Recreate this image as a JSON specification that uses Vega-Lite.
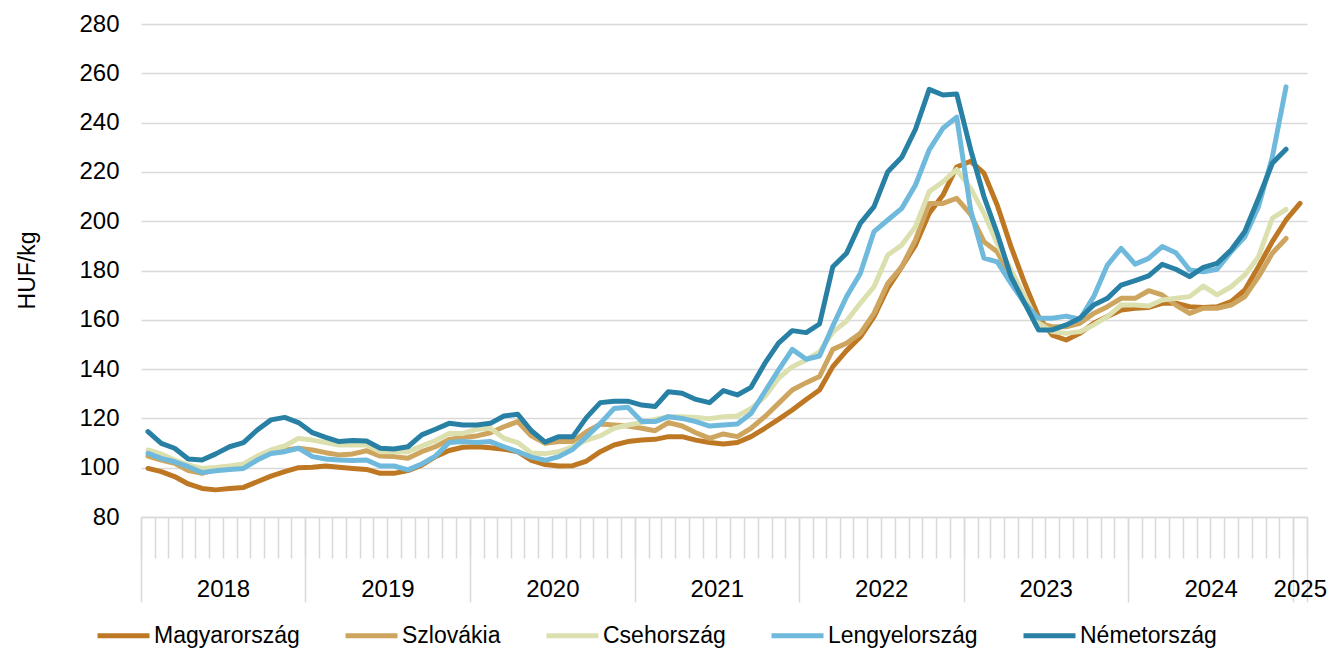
{
  "$schema": "https://vega.github.io/schema/vega-lite/v6.json",
  "width": 1166,
  "height": 493,
  "autosize": {"type": "none"},
  "padding": {"left": 141, "top": 24, "right": 23, "bottom": 133},
  "config": {
    "view": {"stroke": null},
    "font": "Liberation Sans",
    "axis": {"labelFont": "Liberation Sans", "titleFont": "Liberation Sans", "labelColor": "#000000", "titleColor": "#000000"}
  },
  "data": {
    "values": [
      {"d": "2018-01", "Magyarország": 99.7, "Szlovákia": 104.7, "Csehország": 107.2, "Lengyelország": 105.8, "Németország": 114.6},
      {"d": "2018-02", "Magyarország": 98.4, "Szlovákia": 103.1, "Csehország": 105.6, "Lengyelország": 103.8, "Németország": 109.9},
      {"d": "2018-03", "Magyarország": 96.4, "Szlovákia": 101.8, "Csehország": 103.1, "Lengyelország": 102.4, "Németország": 107.9},
      {"d": "2018-04", "Magyarország": 93.4, "Szlovákia": 98.8, "Csehország": 101.1, "Lengyelország": 100.4, "Németország": 103.5},
      {"d": "2018-05", "Magyarország": 91.6, "Szlovákia": 97.7, "Csehország": 99.7, "Lengyelország": 98.0, "Németország": 103.1},
      {"d": "2018-06", "Magyarország": 91.0, "Szlovákia": 99.3, "Csehország": 100.1, "Lengyelország": 98.8, "Németország": 105.6},
      {"d": "2018-07", "Magyarország": 91.6, "Szlovákia": 99.7, "Csehország": 100.7, "Lengyelország": 99.3, "Németország": 108.5},
      {"d": "2018-08", "Magyarország": 92.0, "Szlovákia": 100.1, "Csehország": 101.5, "Lengyelország": 99.7, "Németország": 110.2},
      {"d": "2018-09", "Magyarország": 94.3, "Szlovákia": 103.8, "Csehország": 104.7, "Lengyelország": 103.1, "Németország": 115.3},
      {"d": "2018-10", "Magyarország": 96.6, "Szlovákia": 106.5, "Csehország": 107.2, "Lengyelország": 105.8, "Németország": 119.4},
      {"d": "2018-11", "Magyarország": 98.4, "Szlovákia": 107.2, "Csehország": 108.8, "Lengyelország": 106.5, "Németország": 120.4},
      {"d": "2018-12", "Magyarország": 100.0, "Szlovákia": 107.9, "Csehország": 111.9, "Lengyelország": 107.9, "Németország": 118.3},
      {"d": "2019-01", "Magyarország": 100.2, "Szlovákia": 107.2, "Csehország": 111.2, "Lengyelország": 104.5, "Németország": 114.2},
      {"d": "2019-02", "Magyarország": 100.7, "Szlovákia": 106.1, "Csehország": 110.2, "Lengyelország": 103.5, "Németország": 112.3},
      {"d": "2019-03", "Magyarország": 100.2, "Szlovákia": 105.2, "Csehország": 109.2, "Lengyelország": 103.1, "Németország": 110.6},
      {"d": "2019-04", "Magyarország": 99.7, "Szlovákia": 105.6, "Csehország": 109.2, "Lengyelország": 102.9, "Németország": 111.0},
      {"d": "2019-05", "Magyarország": 99.3, "Szlovákia": 106.9, "Csehország": 109.2, "Lengyelország": 103.1, "Németország": 110.8},
      {"d": "2019-06", "Magyarország": 97.7, "Szlovákia": 104.7, "Csehország": 106.5, "Lengyelország": 100.7, "Németország": 107.9},
      {"d": "2019-07", "Magyarország": 97.7, "Szlovákia": 104.5, "Csehország": 106.5, "Lengyelország": 100.7, "Németország": 107.6},
      {"d": "2019-08", "Magyarország": 98.8, "Szlovákia": 103.8, "Csehország": 106.5, "Lengyelország": 99.1, "Németország": 108.5},
      {"d": "2019-09", "Magyarország": 101.0, "Szlovákia": 106.5, "Csehország": 108.8, "Lengyelország": 101.5, "Németország": 113.3},
      {"d": "2019-10", "Magyarország": 104.5, "Szlovákia": 108.5, "Csehország": 111.0, "Lengyelország": 104.7, "Németország": 115.6},
      {"d": "2019-11", "Magyarország": 107.0, "Szlovákia": 111.5, "Csehország": 113.9, "Lengyelország": 110.2, "Németország": 118.0},
      {"d": "2019-12", "Magyarország": 108.3, "Szlovákia": 112.3, "Csehország": 113.9, "Lengyelország": 110.6, "Németország": 117.3},
      {"d": "2020-01", "Magyarország": 108.5, "Szlovákia": 112.9, "Csehország": 115.6, "Lengyelország": 110.2, "Németország": 117.3},
      {"d": "2020-02", "Magyarország": 108.1, "Szlovákia": 114.2, "Csehország": 116.0, "Lengyelország": 110.6, "Németország": 118.0},
      {"d": "2020-03", "Magyarország": 107.5, "Szlovákia": 116.6, "Csehország": 111.9, "Lengyelország": 108.5, "Németország": 121.0},
      {"d": "2020-04", "Magyarország": 106.5, "Szlovákia": 118.7, "Csehország": 110.2, "Lengyelország": 106.5, "Németország": 121.7},
      {"d": "2020-05", "Magyarország": 103.0, "Szlovákia": 112.9, "Csehország": 106.0, "Lengyelország": 104.3, "Németország": 115.0},
      {"d": "2020-06", "Magyarország": 101.3, "Szlovákia": 109.9, "Csehország": 105.7, "Lengyelország": 103.0, "Németország": 110.4},
      {"d": "2020-07", "Magyarország": 100.7, "Szlovákia": 110.6, "Csehország": 106.5, "Lengyelország": 104.5, "Németország": 112.6},
      {"d": "2020-08", "Magyarország": 100.8, "Szlovákia": 110.6, "Csehország": 108.5, "Lengyelország": 107.5, "Németország": 112.6},
      {"d": "2020-09", "Magyarország": 102.7, "Szlovákia": 114.6, "Csehország": 111.2, "Lengyelország": 112.6, "Németország": 120.4},
      {"d": "2020-10", "Magyarország": 106.5, "Szlovákia": 117.7, "Csehország": 112.9, "Lengyelország": 118.0, "Németország": 126.4},
      {"d": "2020-11", "Magyarország": 109.2, "Szlovákia": 117.3, "Csehország": 116.0, "Lengyelország": 124.0, "Németország": 127.0},
      {"d": "2020-12", "Magyarország": 110.6, "Szlovákia": 116.9, "Csehország": 117.3, "Lengyelország": 124.5, "Németország": 127.0},
      {"d": "2021-01", "Magyarország": 111.2, "Szlovákia": 116.0, "Csehország": 118.3, "Lengyelország": 118.7, "Németország": 125.4},
      {"d": "2021-02", "Magyarország": 111.5, "Szlovákia": 115.0, "Csehország": 119.6, "Lengyelország": 118.7, "Németország": 124.8},
      {"d": "2021-03", "Magyarország": 112.6, "Szlovákia": 118.3, "Csehország": 120.7, "Lengyelország": 120.7, "Németország": 130.8},
      {"d": "2021-04", "Magyarország": 112.6, "Szlovákia": 116.9, "Csehország": 120.7, "Lengyelország": 120.0, "Németország": 130.2},
      {"d": "2021-05", "Magyarország": 111.2, "Szlovákia": 114.2, "Csehország": 120.4, "Lengyelország": 118.7, "Németország": 127.7},
      {"d": "2021-06", "Magyarország": 110.2, "Szlovákia": 111.9, "Csehország": 119.9, "Lengyelország": 116.9, "Németország": 126.4},
      {"d": "2021-07", "Magyarország": 109.6, "Szlovákia": 113.7, "Csehország": 120.7, "Lengyelország": 117.3, "Németország": 131.3},
      {"d": "2021-08", "Magyarország": 110.2, "Szlovákia": 112.6, "Csehország": 121.0, "Lengyelország": 117.7, "Németország": 129.5},
      {"d": "2021-09", "Magyarország": 112.6, "Szlovákia": 116.0, "Csehország": 124.0, "Lengyelország": 122.0, "Németország": 132.6},
      {"d": "2021-10", "Magyarország": 116.0, "Szlovákia": 120.7, "Csehország": 128.8, "Lengyelország": 130.8, "Németország": 142.3},
      {"d": "2021-11", "Magyarország": 119.6, "Szlovákia": 126.1, "Csehország": 136.3, "Lengyelország": 139.6, "Németország": 150.5},
      {"d": "2021-12", "Magyarország": 123.4, "Szlovákia": 131.5, "Csehország": 141.0, "Lengyelország": 148.0, "Németország": 155.6},
      {"d": "2022-01", "Magyarország": 127.7, "Szlovákia": 134.5, "Csehország": 143.7, "Lengyelország": 144.0, "Németország": 154.8},
      {"d": "2022-02", "Magyarország": 131.5, "Szlovákia": 137.0, "Csehország": 147.0, "Lengyelország": 145.3, "Németország": 158.3},
      {"d": "2022-03", "Magyarország": 141.0, "Szlovákia": 148.0, "Csehország": 155.0, "Lengyelország": 157.5, "Németország": 181.5},
      {"d": "2022-04", "Magyarország": 147.5, "Szlovákia": 150.5, "Csehország": 159.5, "Lengyelország": 169.4, "Németország": 187.0},
      {"d": "2022-05", "Magyarország": 153.0, "Szlovákia": 154.5, "Csehország": 166.7, "Lengyelország": 178.8, "Németország": 199.1},
      {"d": "2022-06", "Magyarország": 161.3, "Szlovákia": 162.6, "Csehország": 173.4, "Lengyelország": 195.8, "Németország": 205.9},
      {"d": "2022-07", "Magyarország": 172.8, "Szlovákia": 174.8, "Csehország": 186.3, "Lengyelország": 200.5, "Németország": 220.1},
      {"d": "2022-08", "Magyarország": 181.5, "Szlovákia": 181.5, "Csehország": 190.3, "Lengyelország": 205.2, "Németország": 225.9},
      {"d": "2022-09", "Magyarország": 190.3, "Szlovákia": 192.4, "Csehország": 197.8, "Lengyelország": 214.7, "Németország": 237.3},
      {"d": "2022-10", "Magyarország": 203.2, "Szlovákia": 207.2, "Csehország": 212.0, "Lengyelország": 228.9, "Németország": 253.5},
      {"d": "2022-11", "Magyarország": 210.6, "Szlovákia": 207.2, "Csehország": 216.0, "Lengyelország": 237.7, "Németország": 251.2},
      {"d": "2022-12", "Magyarország": 222.0, "Szlovákia": 209.3, "Csehország": 221.0, "Lengyelország": 242.2, "Németország": 251.6},
      {"d": "2023-01", "Magyarország": 224.3, "Szlovákia": 202.8, "Csehország": 213.3, "Lengyelország": 204.5, "Németország": 229.0},
      {"d": "2023-02", "Magyarország": 219.5, "Szlovákia": 191.7, "Csehország": 203.2, "Lengyelország": 185.0, "Németország": 210.0},
      {"d": "2023-03", "Magyarország": 206.5, "Szlovákia": 187.6, "Csehország": 191.0, "Lengyelország": 183.5, "Németország": 195.0},
      {"d": "2023-04", "Magyarország": 189.7, "Szlovákia": 176.8, "Csehország": 180.2, "Lengyelország": 174.8, "Németország": 177.5},
      {"d": "2023-05", "Magyarország": 174.8, "Szlovákia": 166.7, "Csehország": 169.4, "Lengyelország": 166.7, "Németország": 166.7},
      {"d": "2023-06", "Magyarország": 161.3, "Szlovákia": 158.6, "Csehország": 158.6, "Lengyelország": 160.6, "Németország": 155.9},
      {"d": "2023-07", "Magyarország": 153.8, "Szlovákia": 157.2, "Csehország": 155.2, "Lengyelország": 160.6, "Németország": 155.9},
      {"d": "2023-08", "Magyarország": 151.8, "Szlovákia": 157.2, "Csehország": 154.5, "Lengyelország": 161.5, "Németország": 157.9},
      {"d": "2023-09", "Magyarország": 154.5, "Szlovákia": 158.6, "Csehország": 155.2, "Lengyelország": 160.2, "Németország": 160.6},
      {"d": "2023-10", "Magyarország": 158.6, "Szlovákia": 162.6, "Csehország": 157.9, "Lengyelország": 169.4, "Németország": 166.0},
      {"d": "2023-11", "Magyarország": 161.3, "Szlovákia": 165.3, "Csehország": 161.3, "Lengyelország": 182.2, "Németország": 168.7},
      {"d": "2023-12", "Magyarország": 164.0, "Szlovákia": 168.7, "Csehország": 166.0, "Lengyelország": 189.0, "Németország": 174.1},
      {"d": "2024-01", "Magyarország": 164.7, "Szlovákia": 168.7, "Csehország": 166.0, "Lengyelország": 182.6, "Németország": 175.9},
      {"d": "2024-02", "Magyarország": 165.0, "Szlovákia": 171.8, "Csehország": 165.6, "Lengyelország": 184.9, "Németország": 177.8},
      {"d": "2024-03", "Magyarország": 166.7, "Szlovákia": 170.1, "Csehország": 168.0, "Lengyelország": 189.7, "Németország": 182.5},
      {"d": "2024-04", "Magyarország": 166.7, "Szlovákia": 166.0, "Csehország": 168.7, "Lengyelország": 187.2, "Németország": 180.5},
      {"d": "2024-05", "Magyarország": 165.3, "Szlovákia": 162.6, "Csehország": 169.4, "Lengyelország": 180.2, "Németország": 177.5},
      {"d": "2024-06", "Magyarország": 165.0, "Szlovákia": 164.7, "Csehország": 173.7, "Lengyelország": 179.5, "Németország": 181.3},
      {"d": "2024-07", "Magyarország": 165.3, "Szlovákia": 164.7, "Csehország": 170.1, "Lengyelország": 180.5, "Németország": 182.9},
      {"d": "2024-08", "Magyarország": 167.4, "Szlovákia": 166.0, "Csehország": 173.4, "Lengyelország": 187.6, "Németország": 188.3},
      {"d": "2024-09", "Magyarország": 172.1, "Szlovákia": 169.4, "Csehország": 178.2, "Lengyelország": 193.7, "Németország": 195.8},
      {"d": "2024-10", "Magyarország": 181.6, "Szlovákia": 177.5, "Csehország": 185.6, "Lengyelország": 206.0, "Németország": 209.3},
      {"d": "2024-11", "Magyarország": 191.7, "Szlovákia": 187.0, "Csehország": 201.2, "Lengyelország": 226.0, "Németország": 223.5},
      {"d": "2024-12", "Magyarország": 200.5, "Szlovákia": 193.0, "Csehország": 204.8, "Lengyelország": 254.5, "Németország": 229.2},
      {"d": "2025-01", "Magyarország": 207.2, "Szlovákia": null, "Csehország": null, "Lengyelország": null, "Németország": null}
    ]
  },
  "transform": [
    {"fold": ["Magyarország", "Szlovákia", "Csehország", "Lengyelország", "Németország"], "as": ["s", "v"]}
  ],
  "resolve": {"scale": {"x": "shared"}, "axis": {"x": "independent"}},
  "layer": [
    {
      "mark": {"type": "line", "strokeWidth": 5, "strokeCap": "round", "strokeJoin": "round"},
      "encoding": {
        "x": {
          "field": "d", "type": "temporal", "timeUnit": "utcyearmonth", "bandPosition": 0.5,
          "scale": {"type": "utc", "nice": false, "domain": [{"year": 2018, "month": 1, "date": 1, "utc": true}, {"year": 2025, "month": 2, "date": 1, "utc": true}]},
          "axis": {
            "orient": "bottom", "title": null, "labels": false, "grid": false,
            "tickCount": {"interval": "month", "step": 1},
            "tickSize": 41, "tickColor": "#D9D9D9", "tickWidth": 1.5,
            "domain": true, "domainColor": "#D9D9D9", "domainWidth": 1.5
          }
        },
        "y": {
          "field": "v", "type": "quantitative",
          "scale": {"domain": [80, 280], "nice": false, "zero": false},
          "axis": {
            "values": [80, 100, 120, 140, 160, 180, 200, 220, 240, 260, 280],
            "grid": true, "gridColor": "#D9D9D9", "gridWidth": 1.5,
            "domain": false, "ticks": false, "tickSize": 0,
            "labelPadding": 22, "labelFontSize": 24,
            "title": "HUF/kg", "titleFontSize": 23, "titleFontWeight": "normal",
            "titleAngle": -90, "titleX": -107, "titleY": 246, "titleAlign": "center", "titleBaseline": "alphabetic"
          }
        },
        "color": {
          "field": "s", "type": "nominal",
          "scale": {
            "domain": ["Magyarország", "Szlovákia", "Csehország", "Lengyelország", "Németország"],
            "range": ["#BE7823", "#CDA55F", "#DCE0AF", "#6EB9DC", "#2880A5"]
          },
          "legend": {
            "orient": "none", "legendX": -46, "legendY": 583, "direction": "horizontal",
            "title": null, "symbolType": "stroke", "symbolSize": 2704, "symbolStrokeWidth": 5,
            "labelFontSize": 23, "labelFont": "Liberation Sans", "labelColor": "#000000",
            "labelOffset": 2, "columnPadding": 35, "labelLimit": 0
          }
        }
      }
    },
    {
      "mark": {"type": "point", "opacity": 0},
      "encoding": {
        "x": {
          "field": "d", "type": "temporal", "timeUnit": "utcyearmonth", "bandPosition": 0.5,
          "scale": {"type": "utc", "nice": false, "domain": [{"year": 2018, "month": 1, "date": 1, "utc": true}, {"year": 2025, "month": 2, "date": 1, "utc": true}]},
          "axis": {
            "orient": "bottom", "title": null, "labels": false, "grid": false, "domain": false,
            "values": [
              {"year": 2018, "month": 1, "date": 1, "utc": true},
              {"year": 2019, "month": 1, "date": 1, "utc": true},
              {"year": 2020, "month": 1, "date": 1, "utc": true},
              {"year": 2021, "month": 1, "date": 1, "utc": true},
              {"year": 2022, "month": 1, "date": 1, "utc": true},
              {"year": 2023, "month": 1, "date": 1, "utc": true},
              {"year": 2024, "month": 1, "date": 1, "utc": true},
              {"year": 2025, "month": 1, "date": 1, "utc": true},
              {"year": 2025, "month": 2, "date": 1, "utc": true}
            ],
            "tickSize": 85, "tickColor": "#D9D9D9", "tickWidth": 1.5
          }
        }
      }
    },
    {
      "mark": {"type": "point", "opacity": 0},
      "encoding": {
        "x": {
          "field": "d", "type": "temporal", "timeUnit": "utcyearmonth", "bandPosition": 0.5,
          "scale": {"type": "utc", "nice": false, "domain": [{"year": 2018, "month": 1, "date": 1, "utc": true}, {"year": 2025, "month": 2, "date": 1, "utc": true}]},
          "axis": {
            "orient": "bottom", "title": null, "grid": false, "domain": false, "ticks": false, "tickSize": 0,
            "values": [
              {"year": 2018, "month": 7, "date": 2, "utc": true},
              {"year": 2019, "month": 7, "date": 2, "utc": true},
              {"year": 2020, "month": 7, "date": 2, "utc": true},
              {"year": 2021, "month": 7, "date": 2, "utc": true},
              {"year": 2022, "month": 7, "date": 2, "utc": true},
              {"year": 2023, "month": 7, "date": 2, "utc": true},
              {"year": 2024, "month": 7, "date": 2, "utc": true},
              {"year": 2025, "month": 1, "date": 16, "utc": true}
            ],
            "labelExpr": "utcFormat(datum.value, '%Y')",
            "labelFontSize": 24, "labelPadding": 60, "labelOverlap": false, "labelFlush": false
          }
        }
      }
    }
  ]
}
